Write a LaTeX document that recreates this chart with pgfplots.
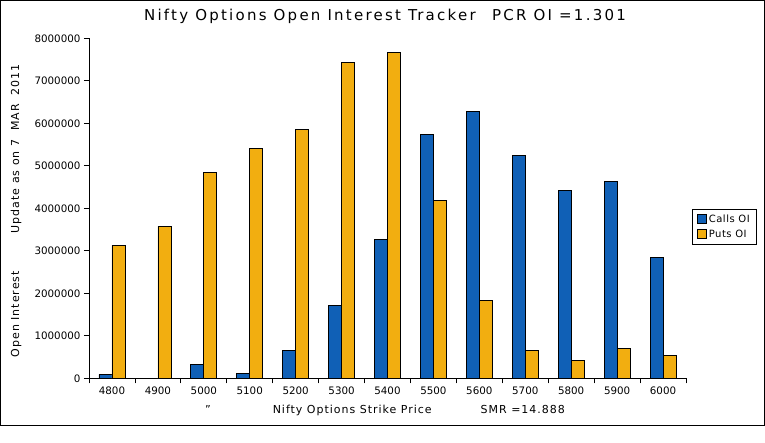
\documentclass[border=0pt]{standalone}
\usepackage{pgfplots}
\pgfplotsset{compat=1.18}
\usepackage{fontspec}
\setmainfont{DejaVu Sans}
\definecolor{callsblue}{RGB}{16,96,182}
\definecolor{putsorange}{RGB}{242,174,16}
\newcommand{\lblfont}{\fontsize{11}{13}\selectfont\addfontfeatures{LetterSpace=9}}
\begin{document}
\begin{tikzpicture}
\path[use as bounding box] (0,0) rectangle (765pt,-443pt);
\draw[line width=1pt] (0.5pt,-0.5pt) rectangle (764pt,-425.5pt);
\node[font={\fontsize{15}{17}\selectfont\addfontfeatures{LetterSpace=15}}] at (385pt,-16.5pt)
    {Nifty Options Open Interest Tracker\hspace{1.1em}PCR OI =1.301};
\begin{axis}[
    at={(89pt,-378.3pt)}, anchor=south west,
    scale only axis, width=597pt, height=340pt,
    xmin=0, xmax=13, ymin=0, ymax=8000000,
    axis x line*=bottom, axis y line*=left,
    axis line style={-, line width=0.8pt},
    tick style={black, line width=0.8pt},
    tick align=outside, major tick length=5pt,
    xtick={0,...,13}, x tick label as interval,
    xticklabels={4800,4900,5000,5100,5200,5300,5400,5500,5600,5700,5800,5900,6000},
    ytick={0,1000000,...,8000000},
    scaled y ticks=false,
    yticklabel style={/pgf/number format/fixed, /pgf/number format/1000 sep={}},
    ticklabel style={font=\fontsize{10.3}{12}\selectfont},
    /pgf/number format/assume math mode=true,
    ybar=0pt, bar width=13pt,
    xlabel={\symbol{34}\hspace{62pt}Nifty Options Strike Price\hspace{49pt}SMR =14.888},
    xlabel style={at={(axis description cs:0.4958,-0.096)}, anchor=center, font=\lblfont},
    ylabel={Open Interest\hspace{38pt}Update as on 7\ \ MAR\ \ 2011},
    ylabel style={at={(axis description cs:-0.1223,0.493)}, rotate=0, anchor=center, font=\lblfont},
    legend style={at={(1.01,0.446)}, anchor=west, draw=black, line width=0.6pt,
        font={\fontsize{10}{12}\selectfont\addfontfeatures{LetterSpace=5}},
        row sep=2pt, inner xsep=5pt, inner ysep=3.5pt},
    legend cell align=left,
    legend image code/.code={\draw[#1, line width=0.6pt] (0pt,-4.5pt) rectangle (9pt,4.5pt);},
]
\addplot[fill=callsblue, draw=black, line width=0.7pt] coordinates {
    (0.5,94000) (1.5,0) (2.5,329000) (3.5,118000) (4.5,659000) (5.5,1718000)
    (6.5,3270000) (7.5,5740000) (8.5,6280000) (9.5,5250000) (10.5,4420000)
    (11.5,4635000) (12.5,2850000)
};
\addplot[fill=putsorange, draw=black, line width=0.7pt] coordinates {
    (0.5,3130000) (1.5,3576000) (2.5,4847000) (3.5,5410000) (4.5,5860000) (5.5,7435000)
    (6.5,7670000) (7.5,4190000) (8.5,1835000) (9.5,659000) (10.5,424000)
    (11.5,706000) (12.5,541000)
};
\legend{Calls OI, Puts OI}
\end{axis}
\end{tikzpicture}
\end{document}
